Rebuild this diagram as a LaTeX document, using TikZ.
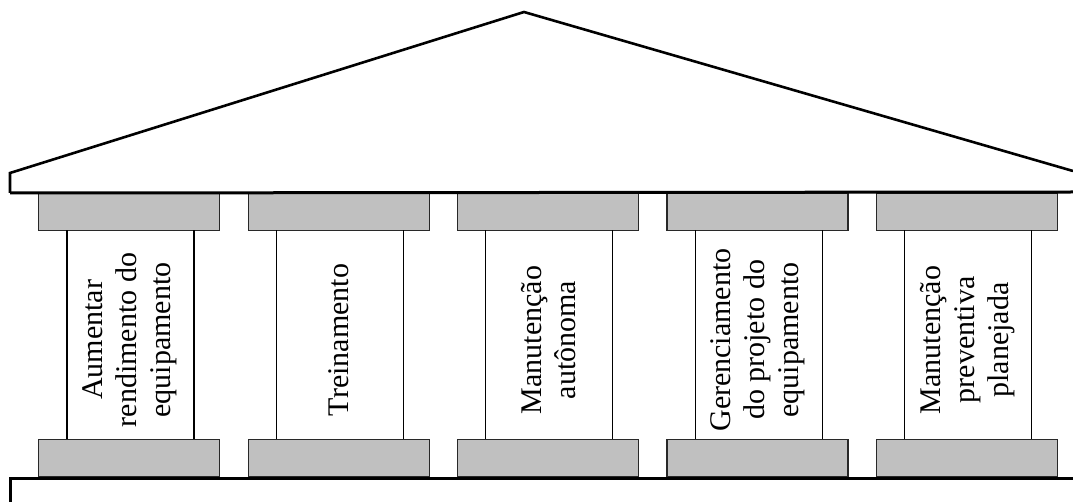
\documentclass[tikz,border=0pt]{standalone}
\usepackage{fontspec}
\setmainfont{Liberation Serif}
\usetikzlibrary{calc}
\definecolor{capgray}{RGB}{192,192,192}
\definecolor{edgegray}{RGB}{40,40,40}
\begin{document}
\begin{tikzpicture}[x=1pt,y=-1pt,
  capbox/.style={draw=edgegray, fill=capgray, line width=1.2pt, minimum width=181pt, minimum height=37.5pt, inner sep=0pt, outer sep=0pt},
  shaftline/.style={draw=black, line width=1.1pt},
  heavy/.style={draw=black, line width=3pt},
  lbl/.style={rotate=90, align=center, inner sep=0pt, font=\fontsize{30}{34}\selectfont}]
\useasboundingbox (0,0) rectangle (1073,502);
% roof
\coordinate (rl) at (10,193);
\coordinate (rlt) at (10,173);
\coordinate (apex) at (524,12);
\coordinate (rr) at (1073,171);
\coordinate (rbr) at (1073,192);
\draw[black, line width=2.6pt, line join=miter] (rl) -- (rlt) -- (apex) -- (rr);
% columns
\foreach \i/\t in {0/{Aumentar\\rendimento do\\equipamento},1/{Treinamento},2/{Manutenção\\autônoma},3/{Gerenciamento\\do projeto do\\equipamento},4/{Manutenção\\preventiva\\planejada}}{
  \pgfmathsetmacro\xl{38.7+209.4*\i}
  \node[capbox, anchor=north west] (cap\i) at (\xl,193) {};
  \node[capbox, anchor=north west] (base\i) at (\xl,439.3) {};
  \draw[shaftline] ($(cap\i.south west)+(28.3,0)$) -- ($(base\i.north west)+(28.3,0)$);
  \draw[shaftline] ($(cap\i.south west)+(155.3,0)$) -- ($(base\i.north west)+(155.3,0)$);
  \node[lbl] (txt\i) at (\xl+91,340) {\t};
}
% entablature line
\draw[heavy] (rl) -- (rbr);
% base line
\coordinate (bl) at (10,478);
\coordinate (br) at (1073,478);
\coordinate (bld) at (10,502);
\draw[heavy, line join=miter] (br) -- (bl) -- (bld);
\end{tikzpicture}
\end{document}
